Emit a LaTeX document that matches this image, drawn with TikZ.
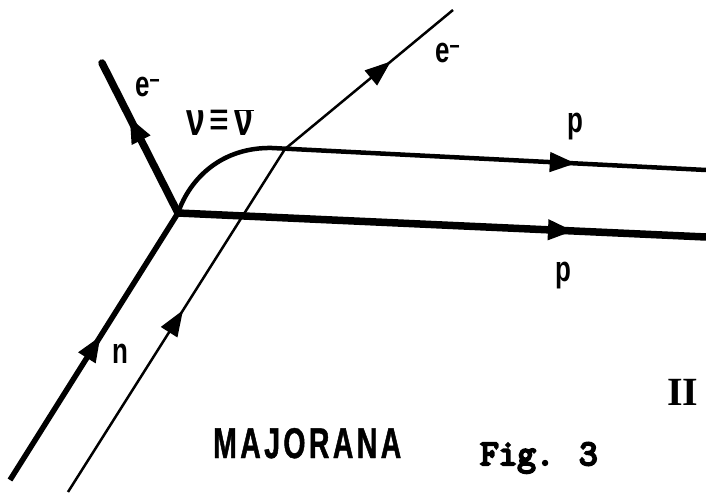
\documentclass[tikz,border=0pt]{standalone}
\usepackage{fontspec}
\usetikzlibrary{arrows.meta,decorations.markings}
\newfontfamily\lblfont[FakeStretch=0.72]{Liberation Sans}
\newfontfamily\majfont[FakeStretch=0.66,LetterSpace=8,FakeBold=1]{Liberation Sans}
\newfontfamily\romfont{Liberation Serif}
\newfontfamily\figfont[FakeBold=6]{Latin Modern Mono}
\tikzset{
  lbl/.style={font=\lblfont\bfseries\fontsize{36}{40}\selectfont, inner sep=0pt, anchor=base west},
  arrowat/.style={postaction={decorate,decoration={markings,mark=at position #1 with {\arrow{Triangle[length=26pt,width=19pt]}}}}},
  thickline/.style={line width=7.5pt},
  midline/.style={line width=4.5pt},
  thinline/.style={line width=2.5pt}
}
\begin{document}
\begin{tikzpicture}[x=1pt,y=1pt]
\useasboundingbox (0,0) rectangle (706,496);
\fill[white] (0,0) rectangle (706,496);
\coordinate (V) at (178,283);
\coordinate (E) at (102,433);
\coordinate (N) at (10,16);
\coordinate (T0) at (68,4);
\coordinate (B) at (285,347);
\coordinate (T1) at (453,486);
\coordinate (C) at (272,348);
\coordinate (PU) at (706,326);
\coordinate (PL) at (706,259);
\draw[thickline, line cap=round, arrowat=0.64] (V) -- (E);
\draw[line width=5.5pt, arrowat=0.54] (N) -- (V);
\draw[thinline, arrowat=0.53] (T0) -- (B);
\draw[thinline, arrowat=0.63] (B) -- (T1);
\draw[midline] (V) .. controls (190,318) and (222,349) .. (C);
\draw[midline, arrowat=0.70] (C) -- (PU);
\draw[thickline, arrowat=0.75] (V) -- (PL);
\node[lbl] (e1) at (135,399) {e\textsuperscript{–}};
\node[lbl] (e2) at (435,433) {e\textsuperscript{–}};
\node[lbl, font=\lblfont\bfseries\fontsize{47}{50}\selectfont] (nu) at (186,360) {ν\hspace{5pt}≡\hspace{5pt}$\overline{\hbox{ν}}$};
\node[lbl] (p1) at (567,363) {p};
\node[lbl] (p2) at (555,215) {p};
\node[lbl] (n) at (112,133) {n};
\node[anchor=base west, inner sep=0pt, font=\majfont\bfseries\fontsize{43}{48}\selectfont] (maj) at (213,38) {MAJORANA};
\node[anchor=base west, inner sep=0pt, font=\figfont\fontsize{36}{40}\selectfont] (fig) at (480,31) {Fig. 3};
\node[anchor=base west, inner sep=0pt, font=\romfont\bfseries\fontsize{40}{44}\selectfont] (rom) at (667,91) {II};
\end{tikzpicture}
\end{document}
